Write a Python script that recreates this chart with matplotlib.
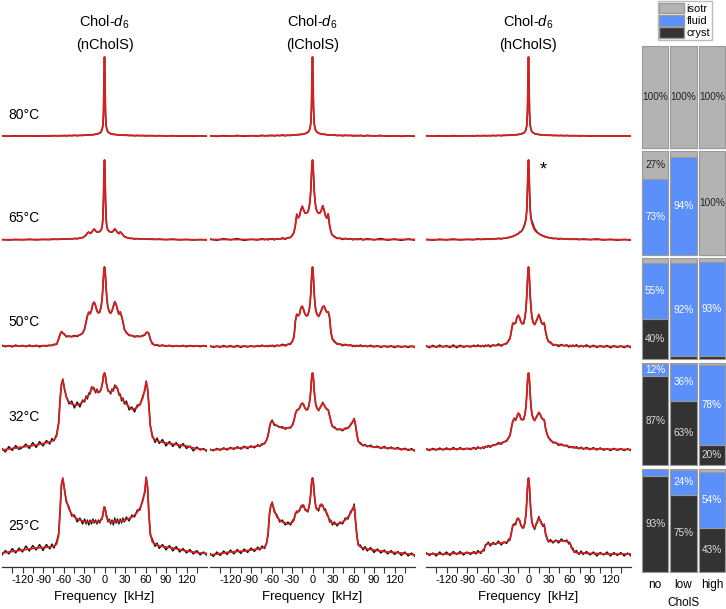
import matplotlib.pyplot as plt
from matplotlib.patches import Patch

plt.rcParams['font.family'] = ['Liberation Sans', 'DejaVu Sans']
plt.rcParams['mathtext.fontset'] = 'custom'
plt.rcParams['mathtext.rm'] = 'Liberation Sans'
plt.rcParams['mathtext.it'] = 'Liberation Sans:italic'

# frequency grid (kHz) for the fitted (red) spectra and the 80/65 C data
FREQ = [-150, -140, -130, -120, -110, -100, -90, -80,
        -74, -70, -67, -65, -63, -61, -59, -56,
        -52, -48, -44, -40, -36, -32, -29, -27,
        -25, -23, -21, -19, -17, -15, -13, -11,
        -9, -7, -5, -3.5, -2.5, -1.5, -0.7, 0,
        0.7, 1.5, 2.5, 3.5, 5, 7, 9, 11,
        13, 15, 17, 19, 21, 23, 25, 27,
        29, 32, 36, 40, 44, 48, 52, 56,
        59, 61, 63, 65, 67, 70, 74, 80,
        90, 100, 110, 120, 130, 140, 150]

# denser grid for the noisier measured spectra (50, 32, 25 C)
FREQ_EXP = [-150, -145, -140, -135, -130, -125, -120, -115, -110, -105, -100, -95, -90, -85, -80, -77,
            -74, -70, -67, -65, -63, -61, -59, -56, -52, -48, -44, -40, -36, -32, -29, -27,
            -25, -23, -21, -19, -17, -15, -13, -11, -9, -7, -5, -3.5, -2.5, -1.5, -0.7, 0,
            0.7, 1.5, 2.5, 3.5, 5, 7, 9, 11, 13, 15, 17, 19, 21, 23, 25, 27,
            29, 32, 36, 40, 44, 48, 52, 56, 59, 61, 63, 65, 67, 70, 74, 77,
            80, 85, 90, 95, 100, 105, 110, 115, 120, 125, 130, 135, 140, 145, 150]

# ---- 80 C ----
RED_80_NO = [0, 0, 0, 0, 0, 0.1, 0.1, 0.2,
             0.2, 0.2, 0.3, 0.3, 0.3, 0.3, 0.3, 0.4,
             0.4, 0.4, 0.5, 0.5, 0.6, 0.7, 0.8, 0.9,
             0.9, 1.0, 1.1, 1.2, 1.3, 1.5, 1.7, 2.0,
             2.4, 3.0, 4.2, 6.5, 10, 22, 55, 79,
             55, 22, 10, 6.5, 4.2, 3.0, 2.4, 2.0,
             1.7, 1.5, 1.3, 1.2, 1.1, 1.0, 0.9, 0.9,
             0.8, 0.7, 0.6, 0.5, 0.5, 0.4, 0.4, 0.4,
             0.3, 0.3, 0.3, 0.3, 0.3, 0.2, 0.2, 0.2,
             0.1, 0.1, 0, 0, 0, 0, 0]
BLACK_80_NO = [0.2, -0.3, 0.4, -0.2, 0.4, -0.3, 0.2, -0.1,
               0.5, 0.0, 0.5, 0.0, 0.5, 0.2, 0.6, 0.0,
               0.6, 0.3, 0.9, 0.2, 0.7, 0.5, 1.1, 0.7,
               1.0, 0.8, 1.3, 1.1, 1.5, 1.3, 1.9, 1.9,
               2.5, 2.8, 4.3, 6.4, 10, 21, 56, 79,
               56, 21, 9.9, 6.6, 4.1, 3.2, 2.2, 2.1,
               1.5, 1.7, 1.2, 1.4, 0.9, 1.1, 0.6, 1.1,
               0.7, 1.0, 0.4, 0.7, 0.1, 0.7, 0.3, 0.6,
               0.0, 0.5, 0.1, 0.6, 0.2, 0.6, 0.0, 0.5,
               -0.1, 0.5, -0.3, 0.2, -0.4, 0.2, -0.3]
RED_80_LOW = [0, 0, 0, 0, 0.1, 0.1, 0.2, 0.2,
              0.3, 0.3, 0.3, 0.3, 0.4, 0.4, 0.4, 0.4,
              0.5, 0.5, 0.6, 0.6, 0.7, 0.8, 0.9, 1.0,
              1.1, 1.2, 1.3, 1.4, 1.6, 1.8, 2.0, 2.4,
              2.9, 3.7, 5.2, 8.0, 13, 28, 60, 79,
              60, 28, 13, 8.0, 5.2, 3.7, 2.9, 2.4,
              2.0, 1.8, 1.6, 1.4, 1.3, 1.2, 1.1, 1.0,
              0.9, 0.8, 0.7, 0.6, 0.6, 0.5, 0.5, 0.4,
              0.4, 0.4, 0.4, 0.3, 0.3, 0.3, 0.3, 0.2,
              0.2, 0.1, 0.1, 0, 0, 0, 0]
BLACK_80_LOW = [0.4, -0.5, 0.5, -0.2, 0.7, -0.4, 0.4, -0.2,
                0.8, 0.0, 0.5, 0.0, 0.8, 0.3, 0.8, 0.0,
                0.8, 0.3, 1.1, 0.1, 0.8, 0.4, 1.3, 0.8,
                1.3, 0.9, 1.7, 1.2, 1.8, 1.5, 2.3, 2.3,
                3.1, 3.5, 5.3, 7.8, 13, 27, 61, 79,
                61, 27, 12.9, 8.1, 5.0, 4.0, 2.6, 2.6,
                1.6, 2.1, 1.5, 1.8, 1.1, 1.4, 0.7, 1.3,
                0.7, 1.3, 0.3, 0.8, 0.1, 0.9, 0.4, 0.8,
                -0.1, 0.6, 0.1, 0.7, 0.1, 0.8, -0.1, 0.7,
                0.0, 0.7, -0.3, 0.3, -0.5, 0.4, -0.5]
RED_80_HIGH = [0, 0, 0, 0, 0, 0.1, 0.1, 0.2,
               0.2, 0.2, 0.3, 0.3, 0.3, 0.3, 0.3, 0.4,
               0.4, 0.4, 0.5, 0.5, 0.6, 0.7, 0.8, 0.9,
               0.9, 1.0, 1.1, 1.2, 1.3, 1.5, 1.7, 2.0,
               2.4, 3.1, 4.4, 6.8, 11, 24, 57, 79,
               57, 24, 11, 6.8, 4.4, 3.1, 2.4, 2.0,
               1.7, 1.5, 1.3, 1.2, 1.1, 1.0, 0.9, 0.9,
               0.8, 0.7, 0.6, 0.5, 0.5, 0.4, 0.4, 0.4,
               0.3, 0.3, 0.3, 0.3, 0.3, 0.2, 0.2, 0.2,
               0.1, 0.1, 0, 0, 0, 0, 0]
BLACK_80_HIGH = [0.5, -0.2, 0.4, -0.3, 0.5, 0.0, 0.4, -0.1,
                 0.6, 0.0, 0.6, 0.1, 0.6, 0.1, 0.5, 0.1,
                 0.7, 0.2, 0.8, 0.2, 0.9, 0.5, 1.1, 0.6,
                 1.2, 0.8, 1.4, 1.0, 1.6, 1.3, 2.0, 1.8,
                 2.6, 2.9, 4.5, 6.6, 11, 23, 58, 79,
                 57, 23, 11, 7.0, 4.2, 3.3, 2.2, 2.2,
                 1.5, 1.7, 1.1, 1.4, 0.9, 1.2, 0.7, 1.1,
                 0.6, 0.9, 0.4, 0.7, 0.3, 0.7, 0.2, 0.6,
                 0.1, 0.5, 0.1, 0.5, 0.1, 0.4, 0.0, 0.4,
                 -0.1, 0.3, -0.2, 0.2, -0.2, 0.2, -0.2]

# ---- 65 C ----
RED_65_NO = [0.3, 0.3, 0.3, 0.4, 0.4, 0.5, 0.5, 0.6,
             0.7, 0.7, 0.8, 0.8, 0.9, 0.9, 1.0, 1.0,
             1.1, 1.2, 1.3, 1.5, 1.8, 2.5, 3.5, 5.0,
             7.0, 8.0, 6.5, 7.5, 9.5, 11, 9.0, 8.0,
             8.0, 8.5, 10, 13, 20, 40, 68, 80,
             68, 40, 20, 13, 10, 8.5, 8.0, 8.0,
             9.0, 11, 9.5, 7.5, 6.5, 8.0, 7.0, 5.0,
             3.5, 2.5, 1.8, 1.5, 1.3, 1.2, 1.1, 1.0,
             1.0, 0.9, 0.9, 0.8, 0.8, 0.7, 0.7, 0.6,
             0.5, 0.5, 0.4, 0.4, 0.3, 0.3, 0.3]
BLACK_65_NO = [0.5, 0.0, 0.6, 0.2, 0.8, 0.1, 0.6, 0.4,
               1.0, 0.5, 1.0, 0.5, 1.1, 0.8, 1.3, 0.6,
               1.3, 1.1, 1.6, 1.2, 1.9, 2.3, 3.8, 4.8,
               7.2, 7.8, 6.8, 7.4, 9.7, 10.8, 9.2, 7.9,
               8.1, 8.3, 10.1, 12.9, 20, 40, 69, 80,
               69, 40, 19.9, 13.1, 9.9, 8.7, 7.8, 8.1,
               8.8, 11.2, 9.4, 7.7, 6.3, 8.1, 6.7, 5.2,
               3.4, 2.8, 1.6, 1.7, 0.9, 1.5, 1.0, 1.2,
               0.7, 1.1, 0.7, 1.1, 0.7, 1.1, 0.5, 0.9,
               0.3, 0.9, 0.1, 0.6, 0.0, 0.5, 0.0]
RED_65_LOW = [0.5, 0.5, 0.5, 0.5, 0.5, 0.5, 0.5, 0.6,
              0.6, 0.7, 0.7, 0.7, 0.8, 0.8, 0.8, 0.9,
              1.0, 1.1, 1.3, 1.5, 2.0, 3.0, 5.0, 8.0,
              15, 26, 22, 24, 30, 34, 30, 27,
              27, 28, 32, 40, 50, 65, 76, 80,
              76, 65, 50, 40, 32, 28, 27, 27,
              30, 34, 30, 24, 22, 26, 15, 8.0,
              5.0, 3.0, 2.0, 1.5, 1.3, 1.1, 1.0, 0.9,
              0.8, 0.8, 0.8, 0.7, 0.7, 0.7, 0.6, 0.6,
              0.5, 0.5, 0.5, 0.5, 0.5, 0.5, 0.5]
BLACK_65_LOW = [0.9, -0.3, 1.4, 0.1, 1.5, -0.4, 0.8, 0.0,
                1.4, 0.2, 1.1, 0.0, 1.4, 0.6, 1.5, 0.0,
                1.5, 0.8, 2.2, 0.7, 2.2, 2.4, 5.7, 7.6,
                15.3, 25.5, 22.6, 23.7, 30.4, 33.4, 30.5, 26.8,
                27.3, 27.6, 32.2, 39.8, 50, 65, 76, 80,
                76, 65, 50, 40.2, 31.7, 28.4, 26.5, 27.3,
                29.4, 34.5, 29.8, 24.6, 21.6, 26.3, 14.3, 8.5,
                4.7, 3.8, 1.4, 1.9, 0.4, 1.8, 0.8, 1.5,
                0.0, 1.2, 0.3, 1.4, 0.4, 1.6, 0.0, 1.4,
                0.1, 1.5, -0.2, 1.0, -0.4, 1.1, -0.3]
RED_65_HIGH = [0.3, 0.3, 0.3, 0.4, 0.4, 0.5, 0.5, 0.6,
               0.7, 0.7, 0.8, 0.8, 0.8, 0.9, 0.9, 1.0,
               1.1, 1.2, 1.3, 1.5, 1.7, 2.0, 2.4, 2.8,
               3.2, 3.7, 4.2, 4.8, 5.5, 6.5, 7.5, 8.5,
               10, 13, 17, 22, 30, 50, 72, 80,
               72, 50, 30, 22, 17, 13, 10, 8.5,
               7.5, 6.5, 5.5, 4.8, 4.2, 3.7, 3.2, 2.8,
               2.4, 2.0, 1.7, 1.5, 1.3, 1.2, 1.1, 1.0,
               0.9, 0.9, 0.8, 0.8, 0.8, 0.7, 0.7, 0.6,
               0.5, 0.5, 0.4, 0.4, 0.3, 0.3, 0.3]
BLACK_65_HIGH = [0.7, -0.2, 0.8, 0.1, 1.0, 0.0, 0.7, 0.2,
                 1.2, 0.4, 1.0, 0.4, 1.2, 0.8, 1.3, 0.5,
                 1.4, 1.0, 1.8, 1.0, 1.8, 1.6, 2.8, 2.6,
                 3.4, 3.4, 4.6, 4.6, 5.7, 6.1, 7.8, 8.3,
                 9.8, 12.5, 16.8, 22, 30, 51, 73, 80,
                 72, 50, 31, 23, 19, 15.5, 11.5, 9.6,
                 7.2, 6.8, 5.4, 5.2, 4.0, 3.9, 2.8, 3.1,
                 2.2, 2.5, 1.3, 1.7, 0.8, 1.6, 1.0, 1.4,
                 0.4, 1.1, 0.5, 1.2, 0.6, 1.2, 0.3, 1.1,
                 0.3, 1.1, 0.0, 0.7, -0.2, 0.6, -0.2]

# ---- 50 C ----
RED_50_NO = [1.0, 1.0, 1.0, 1.0, 1.0, 1.0, 1.2, 1.5,
             2.0, 3.0, 8.0, 13, 15, 14, 12.5, 11,
             10.5, 10.5, 10.8, 11.2, 12, 14, 18, 25,
             31, 35, 33, 37, 43, 45, 41, 36,
             34, 35, 40, 48, 58, 70, 78, 80,
             78, 70, 58, 48, 40, 35, 34, 36,
             41, 45, 43, 37, 33, 35, 31, 25,
             18, 14, 12, 11.2, 10.8, 10.5, 10.5, 11,
             12.5, 14, 15, 13, 8.0, 3.0, 2.0, 1.5,
             1.2, 1.0, 1.0, 1.0, 1.0, 1.0, 1.0]
BLACK_50_NO = [1.8, 0.2, 1.5, 0.0, 2.0, 0.5, 1.7, 0.2, 2.0, 0.4, 1.8, 0.0, 1.6, 0.8, 1.9, 1.3,
               2.8, 2.5, 8.4, 12.3, 15.6, 13.8, 13.2, 10.1, 11.0, 10.2, 11.7, 10.4, 12.2, 13.4, 18.7, 24.6,
               31.3, 34.5, 33.6, 36.7, 43.4, 44.4, 41.5, 35.8, 34.3, 34.6, 40.2, 47.8, 58, 70, 78, 80,
               78, 70, 57.8, 48.2, 39.7, 35.4, 33.5, 36.3, 40.4, 45.5, 42.8, 37.6, 32.6, 35.3, 30.3, 25.5,
               17.7, 14.8, 11.4, 11.6, 9.9, 11.2, 10.3, 11.6, 11.7, 14.4, 14.5, 13.7, 7.7, 3.9, 1.4, 2.3,
               0.8, 2.0, 0.6, 1.8, 0.3, 1.5, 0.5, 1.7, 0.1, 1.6, 0.4, 1.4, 0.2, 1.6, 0.2]
RED_50_LOW = [0.5, 0.5, 0.5, 0.5, 0.6, 0.6, 0.7, 0.8,
              1.0, 1.0, 1.0, 1.0, 1.0, 1.0, 1.1, 1.2,
              1.3, 1.5, 1.7, 2.0, 2.5, 3.5, 6.0, 11,
              26, 33, 31, 33, 39, 41, 37, 33,
              31, 32, 36, 44, 54, 67, 77, 80,
              77, 67, 54, 44, 36, 32, 31, 33,
              37, 40, 41, 37, 35, 35, 30, 14,
              8.0, 5.0, 3.5, 2.7, 2.3, 2.0, 1.7, 1.5,
              1.3, 1.2, 1.1, 1.0, 1.0, 1.0, 1.0, 0.8,
              0.7, 0.6, 0.6, 0.5, 0.5, 0.5, 0.5]
BLACK_50_LOW = [1.2, -0.4, 1.0, -0.2, 1.5, 0.0, 1.4, -0.3, 1.6, -0.5, 1.3, 0.0, 1.2, 0.1, 1.5, 0.3,
                2.0, 0.4, 1.5, 0.2, 1.7, 0.8, 1.9, 0.2, 1.9, 1.1, 2.8, 1.0, 2.7, 2.8, 6.8, 10.5,
                26.4, 32.4, 31.7, 32.6, 39.5, 40.3, 37.6, 32.8, 31.4, 31.5, 36.2, 43.8, 54, 67, 77, 80,
                77, 67.1, 53.8, 44.2, 35.6, 32.5, 30.4, 33.4, 36.3, 40.6, 40.8, 37.7, 34.5, 35.4, 29.2, 15.6,
                8.6, 6.0, 2.8, 3.2, 1.2, 2.8, 1.5, 2.2, 0.3, 1.7, 0.5, 1.8, 0.6, 2.1, 0.3, 1.5,
                0.2, 1.8, 0.0, 1.4, -0.3, 1.1, -0.2, 1.3, -0.6, 1.2, -0.3, 1.0, -0.5, 1.1, -0.5]
RED_50_HIGH = [0.5, 0.5, 0.5, 0.5, 0.6, 0.6, 0.7, 0.8,
               0.9, 1.0, 1.0, 1.1, 1.1, 1.2, 1.2, 1.3,
               1.4, 1.6, 1.8, 2.0, 2.5, 4.0, 6.0, 9.0,
               16, 24, 23, 24, 29, 32, 29, 25,
               23, 24, 30, 40, 52, 66, 77, 80,
               77, 66, 52, 40, 30, 24, 23, 25,
               29, 32, 29, 24, 23, 24, 16, 9.0,
               6.0, 4.0, 2.5, 2.0, 1.8, 1.6, 1.4, 1.3,
               1.2, 1.2, 1.1, 1.1, 1.0, 1.0, 0.9, 0.8,
               0.7, 0.6, 0.6, 0.5, 0.5, 0.5, 0.5]
BLACK_50_HIGH = [1.4, -0.7, 1.7, -0.4, 1.9, -0.1, 1.5, -0.6, 2.1, -0.8, 1.8, -0.3, 1.2, -0.1, 1.8, 0.3,
                 2.1, 0.2, 1.6, 0.1, 2.0, 0.9, 2.2, 0.0, 2.2, 1.1, 3.2, 0.8, 2.8, 3.1, 7.0, 8.4,
                 16.5, 23.2, 23.9, 23.5, 29.6, 31.1, 29.7, 24.7, 23.4, 23.4, 30.3, 39.7, 52, 66, 77, 80,
                 77, 66.1, 51.7, 40.3, 29.5, 24.6, 22.2, 25.4, 28.1, 32.7, 28.7, 24.9, 22.4, 24.4, 15.0, 9.7,
                 5.5, 5.2, 1.6, 2.6, 0.4, 2.6, 1.1, 2.2, 0.0, 1.8, 0.3, 2.1, 0.5, 2.3, 0.0, 1.6,
                 0.1, 2.1, -0.3, 1.8, -0.5, 1.3, -0.2, 1.6, -0.8, 1.4, -0.4, 1.2, -0.7, 1.5, -0.7]

# ---- 32 C ----
RED_32_NO = [0, 1.0, 2.0, 3.0, 4.0, 5.0, 6.5, 8.0,
             10, 14, 28, 50, 66, 70, 63, 53,
             48, 46, 45, 45, 46, 48, 50, 52,
             53, 55, 58, 61, 63, 60, 58, 60,
             58, 58, 61, 65, 69, 74, 76, 77,
             76, 73, 68, 64, 60, 58, 58, 59,
             61, 63, 64, 61, 57, 54, 52, 50,
             48, 46, 43, 41, 41, 43, 46, 52,
             61, 68, 62, 44, 25, 13, 10, 8.5,
             7.0, 6.0, 5.0, 4.0, 2.0, 1.0, 0]
BLACK_32_NO = [1.5, -2.0, 3.5, -0.5, 4.5, 0.5, 2.5, 6.0, 1.5, 7.5, 2.5, 8.5, 4.0, 9.5, 6.0, 11.5,
               9.0, 16, 27, 51, 65, 71, 62, 54, 46, 49, 42, 48, 43, 50, 48, 54,
               51, 57, 56, 63, 61, 62, 57, 61, 57, 59, 60, 66, 68, 75, 76, 77,
               76, 74, 67, 65, 59, 59, 56, 61, 59, 65, 62, 62, 55, 56, 49, 52,
               46, 49, 40, 43, 38, 45, 45, 54, 59, 69, 61, 45, 24, 15, 7.5, 12,
               6.5, 10.5, 4.0, 8.5, 3.5, 7.5, 2.0, 6.5, 1.5, 4.0, -1.0, 3.0, 0.0, 1.5, -1.5]
RED_32_LOW = [0, 0.5, 1.0, 1.5, 2.0, 2.5, 3.0, 4.0,
              5.0, 7.0, 10, 15, 22, 28, 29, 26,
              24, 23, 22, 22, 22, 23, 25, 30,
              36, 40, 40, 42, 45, 47, 45, 42,
              40, 41, 45, 52, 60, 70, 76, 77,
              76, 70, 60, 52, 45, 41, 40, 42,
              45, 47, 45, 42, 41, 40, 35, 28,
              24, 22, 21, 20.5, 20.5, 21, 22, 25,
              29, 31, 25, 15, 9.0, 6.0, 5.0, 4.0,
              3.0, 2.5, 2.0, 1.5, 1.0, 0.5, 0]
BLACK_32_LOW = [0.9, -0.8, 1.6, -0.3, 2.2, 0.0, 2.6, 0.6, 3.3, 0.9, 3.8, 1.4, 4.2, 2.2, 5.3, 3.6,
                6.2, 6.2, 10.6, 14.0, 22.9, 27.7, 30.0, 24.6, 24.7, 22.5, 23.3, 20.8, 22.3, 22.1, 26.0, 29.4,
                36.5, 39.2, 40.9, 41.5, 45.6, 46.1, 45.8, 41.7, 40.4, 40.4, 45.3, 51.7, 60, 70, 76, 77,
                76, 70.2, 59.7, 52.3, 44.5, 41.6, 39.2, 42.4, 44.1, 47.8, 44.7, 42.9, 40.4, 40.5, 34.0, 28.7,
                23.5, 23.2, 20.1, 21.1, 19.2, 22.0, 21.7, 25.9, 27.8, 31.6, 24.2, 16.0, 8.5, 7.3, 4.1, 5.6,
                3.2, 4.8, 2.4, 3.9, 1.5, 3.6, 1.1, 2.9, 1.0, 2.5, 0.0, 1.8, -0.4, 1.4, -1.2]
RED_32_HIGH = [0.5, 0.6, 0.7, 0.8, 1.0, 1.1, 1.3, 1.5,
               2.0, 2.0, 2.5, 2.5, 3.0, 3.0, 3.5, 4.0,
               4.5, 5.5, 6.0, 7.0, 8.0, 9.5, 12, 15,
               22, 29, 31, 30, 33, 37, 35, 31,
               30, 31, 36, 45, 56, 68, 75, 77,
               75, 68, 56, 45, 36, 31, 30, 32,
               35, 37, 36, 32, 31, 30, 22, 16,
               13, 9.5, 8.0, 7.0, 6.0, 5.0, 4.5, 4.0,
               3.5, 3.0, 3.0, 2.5, 2.5, 2.0, 2.0, 1.5,
               1.3, 1.1, 1.0, 0.8, 0.7, 0.6, 0.5]
BLACK_32_HIGH = [1.4, -0.5, 1.6, -0.2, 2.0, 0.0, 2.1, 0.1, 2.5, 0.2, 2.4, 0.3, 1.8, 0.4, 2.6, 0.6,
                 3.2, 1.2, 3.1, 1.5, 3.9, 2.7, 4.6, 2.6, 5.2, 5.0, 7.4, 5.8, 8.3, 8.6, 13.0, 14.4,
                 22.5, 28.2, 31.9, 29.5, 33.6, 36.1, 35.7, 30.7, 30.5, 30.4, 36.3, 44.7, 56, 68, 75, 77,
                 75, 68.2, 55.7, 45.3, 35.5, 31.6, 29.2, 32.5, 34.1, 37.8, 35.7, 32.9, 30.4, 30.5, 21.0, 16.7,
                 12.5, 10.7, 7.1, 7.6, 4.6, 6.0, 4.2, 4.9, 2.3, 3.6, 2.3, 3.6, 2.1, 3.3, 1.1, 2.9,
                 0.7, 2.6, 0.3, 2.4, 0.0, 2.1, -0.3, 1.5, -0.6, 1.7, -0.4, 1.5, -0.6, 1.3, -0.7]

# ---- 25 C ----
RED_25_NO = [2.0, 3.0, 4.0, 5.0, 6.0, 7.0, 7.5, 8.0,
             9.0, 11, 20, 45, 70, 77, 67, 55,
             46, 41, 38, 36, 35, 34, 33.5, 33,
             33, 33, 33, 33.5, 34, 34, 33, 33,
             33, 34, 35, 37, 40, 44, 47, 48,
             47, 44, 40, 37, 35, 34, 33, 33,
             33, 34, 34, 33.5, 33.5, 34, 34, 34.5,
             35, 35.5, 36.5, 38, 40, 43, 47, 54,
             64, 77, 68, 40, 22, 13, 11, 9.0,
             8.0, 7.0, 5.5, 4.0, 3.0, 2.0, 1.5]
BLACK_25_NO = [0.0, 4.5, 1.0, 6.5, 2.0, 7.0, 3.0, 9.0, 4.0, 9.5, 5.0, 10.5, 4.5, 10.5, 6.0, 11.0,
               7.0, 13.5, 22, 43, 71, 76, 68, 53, 48, 39, 40, 33, 37, 31, 36, 31,
               35, 30, 35, 31, 36, 32, 35, 31, 35, 32, 36, 36, 40, 44, 48, 48,
               47, 45, 39, 39, 33, 36, 31, 35, 30, 37, 32, 36, 31, 36, 32, 37,
               33, 38, 34, 40, 38, 45, 45, 56, 62, 78, 67, 42, 20, 16, 8.5, 12,
               6.5, 10.5, 5.0, 9.5, 4.0, 8.5, 3.0, 6.5, 2.0, 5.5, 1.0, 4.5, 0.0, 3.0, -0.5]
RED_25_LOW = [0, 1.0, 2.0, 3.0, 3.5, 4.0, 5.0, 6.0,
              7.0, 8.0, 12, 22, 40, 50, 52, 45,
              38, 35, 33, 32, 31, 32, 33, 36,
              41, 44, 43, 45, 48, 50, 49, 46,
              44, 44, 48, 55, 62, 71, 76, 77,
              76, 71, 62, 55, 48, 45, 46, 49,
              51, 49, 46, 44, 42, 38, 35, 33,
              32, 31, 31, 31.5, 33, 35, 38, 42,
              47, 49, 35, 18, 11, 8.0, 7.0, 6.0,
              5.0, 4.0, 3.0, 2.5, 2.0, 1.0, 0]
BLACK_25_LOW = [1.5, -1.5, 3.0, -0.5, 4.0, 0.5, 5.0, 1.0, 5.5, 1.5, 6.0, 2.5, 7.0, 3.5, 8.0, 5.0,
                9.0, 6.5, 13, 20, 41, 49, 53, 43, 40, 33, 35, 30, 33, 30, 35, 35,
                42, 42, 44, 44, 49, 48, 50, 45, 45, 43, 48, 55, 62, 71, 76, 77,
                76, 71, 62, 55, 47, 46, 44, 50, 49, 50, 45, 46, 40, 39, 33, 35,
                30, 33, 29, 33, 31, 37, 36, 44, 45, 51, 33, 20, 9.5, 10, 5.0, 8.5,
                4.0, 7.5, 2.5, 6.0, 2.0, 5.0, 1.0, 4.5, 0.5, 3.5, -0.5, 3.0, -1.0, 2.0, -1.5]
RED_25_HIGH = [1.0, 1.0, 1.0, 1.0, 1.5, 1.5, 2.0, 2.0,
               2.5, 3.0, 4.0, 6.0, 9.0, 11, 11.5, 11,
               11, 11.5, 12, 12, 12.5, 13, 14, 16,
               22, 30, 30, 31, 35, 37, 34, 30,
               27, 28, 33, 43, 54, 67, 75, 77,
               75, 67, 54, 43, 33, 28, 27, 30,
               34, 37, 35, 31, 30, 30, 22, 16,
               14, 13.5, 13.5, 14, 14, 14, 14, 13.5,
               13, 11, 8.0, 5.0, 3.5, 2.5, 2.0, 2.0,
               1.5, 1.5, 1.0, 1.0, 1.0, 1.0, 1.0]
BLACK_25_HIGH = [2.5, -0.5, 2.0, -1.0, 3.0, 0.0, 3.0, -0.5, 3.5, 0.5, 3.5, 0.0, 3.0, 0.5, 3.5, 1.0,
                 4.5, 1.5, 5.0, 4.0, 10.5, 10.5, 13, 9.0, 12.5, 10.5, 14, 10, 13, 11.5, 16, 15,
                 23, 29, 31.5, 30, 36, 35.5, 35, 29.5, 28, 27, 33.5, 42.5, 54, 67, 75, 77,
                 75, 67, 53.5, 43.5, 32.5, 29, 25.5, 31, 32.5, 38.5, 34.5, 32.5, 28.5, 31, 20, 17.5,
                 13, 15.5, 12, 15, 12, 16, 13.5, 15, 11, 12, 6.5, 7.0, 2.5, 4.5, 0.5, 4.0,
                 0.5, 3.5, 0.0, 3.0, -1.0, 2.5, 0.0, 3.0, -1.0, 2.5, -0.5, 2.5, -1.0, 2.0, -1.0]

TEMPS = ['80°C', '65°C', '50°C', '32°C', '25°C']
SAMPLES = ['nCholS', 'lCholS', 'hCholS']
GROUPS = ['no', 'low', 'high']

# phase fractions (%) per temperature for no / low / high CholS
CRYST = [[0, 0, 0], [0, 0, 0], [40, 3, 3], [87, 63, 20], [93, 75, 43]]
FLUID = [[0, 0, 0], [73, 94, 0], [55, 92, 93], [12, 36, 78], [7, 24, 54]]
ISOTR = [[100, 100, 100], [27, 6, 100], [5, 5, 4], [1, 1, 2], [0, 1, 3]]

RED = [[RED_80_NO, RED_80_LOW, RED_80_HIGH],
       [RED_65_NO, RED_65_LOW, RED_65_HIGH],
       [RED_50_NO, RED_50_LOW, RED_50_HIGH],
       [RED_32_NO, RED_32_LOW, RED_32_HIGH],
       [RED_25_NO, RED_25_LOW, RED_25_HIGH]]
BLACK = [[BLACK_80_NO, BLACK_80_LOW, BLACK_80_HIGH],
         [BLACK_65_NO, BLACK_65_LOW, BLACK_65_HIGH],
         [BLACK_50_NO, BLACK_50_LOW, BLACK_50_HIGH],
         [BLACK_32_NO, BLACK_32_LOW, BLACK_32_HIGH],
         [BLACK_25_NO, BLACK_25_LOW, BLACK_25_HIGH]]
BLACK_FREQ = [FREQ, FREQ, FREQ_EXP, FREQ_EXP, FREQ_EXP]
for r in range(5):
    for c in range(3):
        assert len(RED[r][c]) == len(FREQ), ('red', r, c, len(RED[r][c]))
        assert len(BLACK[r][c]) == len(BLACK_FREQ[r]), ('black', r, c, len(BLACK[r][c]))

GRAY = '#b3b3b3'
BLUE = '#5b8ff9'
DARK = '#333333'
EDGE = '#9a9a9a'
RED_C = '#d42020'

W, H = 726, 609
fig = plt.figure(figsize=(W / 100, H / 100), dpi=100)


def px_axes(x0, y0, x1, y1):
    return fig.add_axes([x0 / W, 1 - y1 / H, (x1 - x0) / W, (y1 - y0) / H])


col_left = [2, 210, 426]
col_w = 205
row_top = [46, 151, 258, 363, 469]
baseline = [136, 240, 347, 450, 555]
bar_bottom = [148, 255, 359, 465, 572]
label_y = [21, 22, 25, 33, 29]

# column titles
for c in range(3):
    xc = col_left[c] + col_w / 2
    fig.text(xc / W, 1 - 22 / H, 'Chol-$d_6$', ha='center', va='center', fontsize=10.5)
    fig.text(xc / W, 1 - 45 / H, '(' + SAMPLES[c] + ')', ha='center', va='center', fontsize=10.5)

major = list(range(-120, 121, 30))
minor = list(range(-135, 136, 30))

for r in range(5):
    for c in range(3):
        ax = px_axes(col_left[c], row_top[r], col_left[c] + col_w, baseline[r] + 12)
        ax.plot(BLACK_FREQ[r], BLACK[r][c], color='#111111', lw=1.0, zorder=2)
        ax.plot(FREQ, RED[r][c], color=RED_C, lw=1.3, zorder=3)
        ax.set_xlim(-150, 150)
        ax.set_ylim(-12, baseline[r] - row_top[r])
        ax.patch.set_visible(False)
        for s in ['top', 'right', 'left']:
            ax.spines[s].set_visible(False)
        ax.set_yticks([])
        if r < 4:
            ax.spines['bottom'].set_visible(False)
            ax.set_xticks([])
        else:
            ax.spines['bottom'].set_color('#333333')
            ax.spines['bottom'].set_linewidth(0.9)
            ax.set_xticks(major)
            ax.set_xticklabels([str(v) for v in major])
            ax.set_xticks(minor, minor=True)
            ax.tick_params(axis='x', which='both', direction='out', length=4,
                           width=0.8, color='#333333', labelsize=8, pad=2)
            ax.set_xlabel('Frequency  [kHz]', fontsize=9.5, labelpad=4)
        if c == 0:
            ax.text(-141, label_y[r], TEMPS[r], fontsize=10, ha='left', va='center')
        if r == 1 and c == 2:
            ax.text(22, 70, '*', fontsize=13, ha='center', va='center')

# phase composition bars
for r in range(5):
    ax = px_axes(641, row_top[r], 726, bar_bottom[r])
    x = [0, 1, 2]
    cr = CRYST[r]
    fl = FLUID[r]
    iso = ISOTR[r]
    mid = [cr[i] + fl[i] for i in range(3)]
    ax.bar(x, cr, width=0.93, color=DARK, edgecolor=EDGE, lw=0.8, clip_on=False)
    ax.bar(x, fl, bottom=cr, width=0.93, color=BLUE, edgecolor=EDGE, lw=0.8, clip_on=False)
    ax.bar(x, iso, bottom=mid, width=0.93, color=GRAY, edgecolor=EDGE, lw=0.8, clip_on=False)
    for i in range(3):
        for val, bot, col in [(cr[i], 0, '#dddddd'), (fl[i], cr[i], 'white'), (iso[i], mid[i], '#222222')]:
            if val >= 10:
                ax.text(i, bot + val / 2, f'{val}%', ha='center', va='center',
                        fontsize=7.2, color=col)
    ax.set_xlim(-0.5, 2.5)
    ax.set_ylim(0, 100)
    for s in ax.spines.values():
        s.set_visible(False)
    ax.set_yticks([])
    if r == 4:
        ax.set_xticks(x)
        ax.set_xticklabels(GROUPS)
        ax.tick_params(axis='x', length=0, labelsize=8.5, pad=5)
        ax.set_xlabel('CholS', fontsize=8.5, labelpad=4)
    else:
        ax.set_xticks([])

handles = [Patch(facecolor=GRAY, edgecolor=EDGE, label='isotr'),
           Patch(facecolor=BLUE, edgecolor=EDGE, label='fluid'),
           Patch(facecolor=DARK, edgecolor=EDGE, label='cryst')]
fig.legend(handles=handles, loc='upper right', bbox_to_anchor=(712 / W, 1 - 1 / H),
           fontsize=8, frameon=True, fancybox=False, edgecolor='#bbbbbb',
           handlelength=2.2, handleheight=1.1, labelspacing=0.1, borderpad=0.15,
           handletextpad=0.25, borderaxespad=0, framealpha=1)

fig.savefig('out.png', dpi=100)
